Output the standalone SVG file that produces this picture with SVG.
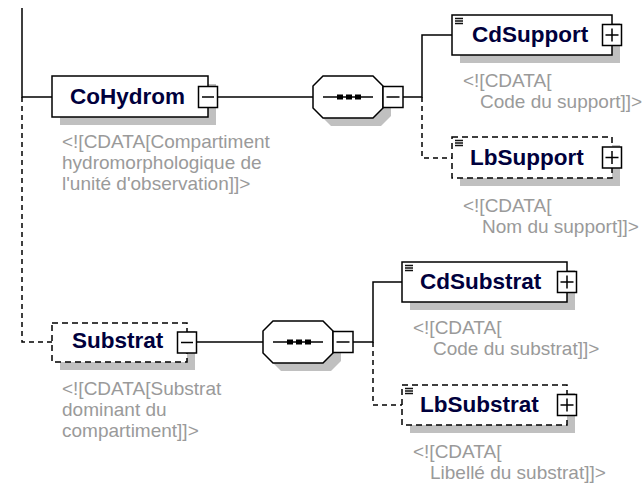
<svg xmlns="http://www.w3.org/2000/svg" width="642" height="485" viewBox="0 0 642 485">
<style>
.bg{fill:#ffffff}
.box{fill:#ffffff;stroke:#000;stroke-width:1.5}
.dbox{fill:#ffffff;stroke:#000;stroke-width:1.5;stroke-dasharray:6 4}
.shadow{fill:#c0c0c0}
.btn{fill:#ffffff;stroke:#000;stroke-width:1.5}
.sym{stroke:#000;stroke-width:1.5;fill:none}
.ln{stroke:#000;stroke-width:1.5;fill:none}
.dln{stroke:#000;stroke-width:1.5;fill:none;stroke-dasharray:5 4}
.icon{stroke:#111;stroke-width:1.4}
.lbl{font-family:"Liberation Sans",Arial,sans-serif;font-weight:bold;font-size:22.5px;fill:#00003c}
.doc{font-family:"Liberation Sans",Arial,sans-serif;font-size:19px;fill:#9a9a9a}
</style>
<rect class="bg" x="0" y="0" width="642" height="485"/>

<g id="connectors">
  <path class="ln" d="M22,8 V97 H52"/>
  <path class="dln" d="M22,97 V342 H52"/>
  <path class="ln" d="M217.5,97 H313"/>
  <path class="ln" d="M403,97 H422 V35 H452"/>
  <path class="dln" d="M422,97 V158 H452"/>
  <path class="ln" d="M196.5,342 H263"/>
  <path class="ln" d="M353,342 H373 V282 H402"/>
  <path class="dln" d="M373,342 V405 H402"/>
</g>

<g id="CoHydrom">
  <rect class="shadow" x="60" y="84" width="156" height="41"/>
  <rect class="box" x="52" y="76" width="156" height="41"/>
  <rect class="btn" x="198.5" y="86.5" width="19" height="21"/>
  <path class="sym" d="M202,97 H214"/>
  <text class="lbl" x="70" y="104">CoHydrom</text>
  <text class="doc" x="62" y="148">&lt;![CDATA[Compartiment</text>
  <text class="doc" x="62" y="169">hydromorphologique de</text>
  <text class="doc" x="62" y="190">l'unité d'observation]]&gt;</text>
</g>

<g id="seq1">
  <polygon class="shadow" points="331,84 381,84 391,94 391,116 381,126 331,126 321,116 321,94"/>
  <polygon class="box" points="323,76 373,76 383,86 383,108 373,118 323,118 313,108 313,86"/>
  <path class="ln" d="M323,97 H373"/>
  <rect x="337" y="94.5" width="6" height="5" fill="#000"/>
  <rect x="346" y="94.5" width="6" height="5" fill="#000"/>
  <rect x="355" y="94.5" width="6" height="5" fill="#000"/>
  <rect class="btn" x="383" y="86.5" width="20" height="21"/>
  <path class="sym" d="M386.5,97 H399.5"/>
</g>

<g id="CdSupport">
  <rect class="shadow" x="460" y="23" width="160" height="40"/>
  <rect class="box" x="452" y="15" width="160" height="40"/>
  <path class="icon" d="M455,18.5 H463 M455,21 H463 M455,23.5 H463"/>
  <rect class="btn" x="602.5" y="24.5" width="19" height="21"/>
  <path class="sym" d="M605.5,35 H618.5 M612,28.5 V41.5"/>
  <text class="lbl" x="472" y="42">CdSupport</text>
  <text class="doc" x="463" y="87">&lt;![CDATA[</text>
  <text class="doc" x="480" y="108">Code du support]]&gt;</text>
</g>

<g id="LbSupport">
  <rect class="shadow" x="460" y="145" width="160" height="41"/>
  <rect class="dbox" x="452" y="137" width="160" height="41"/>
  <path class="icon" d="M455,140.5 H463 M455,143 H463 M455,145.5 H463"/>
  <rect class="btn" x="602.5" y="147" width="19" height="21"/>
  <path class="sym" d="M605.5,157.5 H618.5 M612,151 V164"/>
  <text class="lbl" x="470" y="165">LbSupport</text>
  <text class="doc" x="463" y="212">&lt;![CDATA[</text>
  <text class="doc" x="482" y="233">Nom du support]]&gt;</text>
</g>

<g id="Substrat">
  <rect class="shadow" x="60" y="331" width="135" height="39"/>
  <rect class="dbox" x="52" y="323" width="135" height="39"/>
  <rect class="btn" x="177.5" y="332" width="19" height="21"/>
  <path class="sym" d="M181,342.5 H193"/>
  <text class="lbl" x="72" y="348">Substrat</text>
  <text class="doc" x="62" y="395">&lt;![CDATA[Substrat</text>
  <text class="doc" x="62" y="416">dominant du</text>
  <text class="doc" x="62" y="437">compartiment]]&gt;</text>
</g>

<g id="seq2">
  <polygon class="shadow" points="281,329 331,329 341,339 341,361 331,371 281,371 271,361 271,339"/>
  <polygon class="box" points="273,321 323,321 333,331 333,353 323,363 273,363 263,353 263,331"/>
  <path class="ln" d="M273,342 H323"/>
  <rect x="287" y="339.5" width="6" height="5" fill="#000"/>
  <rect x="296" y="339.5" width="6" height="5" fill="#000"/>
  <rect x="305" y="339.5" width="6" height="5" fill="#000"/>
  <rect class="btn" x="333" y="331.5" width="20" height="21"/>
  <path class="sym" d="M336.5,342 H349.5"/>
</g>

<g id="CdSubstrat">
  <rect class="shadow" x="410" y="270" width="165" height="40"/>
  <rect class="box" x="402" y="262" width="165" height="40"/>
  <path class="icon" d="M405,265.5 H413 M405,268 H413 M405,270.5 H413"/>
  <rect class="btn" x="557.5" y="271.5" width="19" height="21"/>
  <path class="sym" d="M560.5,282 H573.5 M567,275.5 V288.5"/>
  <text class="lbl" x="420" y="289">CdSubstrat</text>
  <text class="doc" x="413" y="334">&lt;![CDATA[</text>
  <text class="doc" x="433" y="355">Code du substrat]]&gt;</text>
</g>

<g id="LbSubstrat">
  <rect class="shadow" x="410" y="393" width="165" height="40"/>
  <rect class="dbox" x="402" y="385" width="165" height="40"/>
  <path class="icon" d="M405,388.5 H413 M405,391 H413 M405,393.5 H413"/>
  <rect class="btn" x="557.5" y="394.5" width="19" height="21"/>
  <path class="sym" d="M560.5,405 H573.5 M567,398.5 V411.5"/>
  <text class="lbl" x="420" y="412">LbSubstrat</text>
  <text class="doc" x="413" y="458">&lt;![CDATA[</text>
  <text class="doc" x="430" y="479">Libellé du substrat]]&gt;</text>
</g>
</svg>
